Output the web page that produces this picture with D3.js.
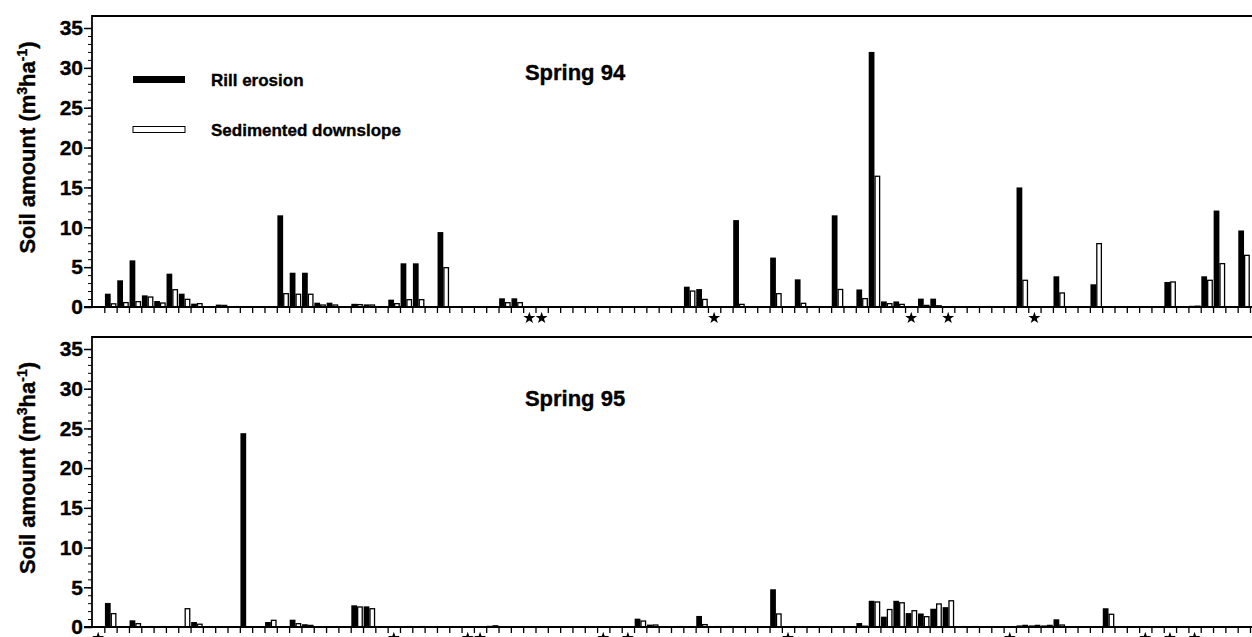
<!DOCTYPE html>
<html>
<head>
<meta charset="utf-8">
<script src="https://cdn.jsdelivr.net/npm/d3@7"></script>
<style>
  body { margin: 0; background: #fff; }
  svg { display: block; font-family: "Liberation Sans", Arial, sans-serif; font-weight: bold; }
  text { stroke: #000; stroke-width: 0.35px; }
</style>
</head>
<body>
<div id="chart"></div>
<script>
/* DATA */
// 94 plots along the transect
const fields = d3.range(1, 95);

const rill94 = [
  0, 1.67, 3.35, 5.85, 1.46, 0.75, 4.18, 1.67, 0.42, 0,
  0.3, 0.1, 0, 0, 0, 11.5, 4.3, 4.3, 0.54, 0.54,
  0, 0.4, 0.33, 0, 0.92, 5.48, 5.48, 0, 9.4, 0,
  0, 0, 0, 1.09, 1.09, 0, 0, 0, 0, 0,
  0, 0, 0, 0, 0, 0, 0, 0, 2.55, 2.25,
  0, 0, 10.9, 0, 0, 6.2, 0, 3.47, 0.05, 0,
  11.5, 0.1, 2.2, 32.0, 0.7, 0.7, 0, 1.05, 1.05, 0,
  0, 0, 0.1, 0, 0, 15.0, 0, 0, 3.85, 0,
  0, 2.85, 0, 0, 0, 0, 0, 3.14, 0, 0.15,
  3.85, 12.1, 0, 9.6
];
const sed94 = [
  0, 0.4, 0.55, 0.67, 1.25, 0.5, 2.17, 0.96, 0.42, 0,
  0.2, 0.05, 0, 0, 0, 1.67, 1.6, 1.6, 0.25, 0.25,
  0, 0.3, 0.25, 0, 0.42, 0.92, 0.92, 0, 4.93, 0,
  0, 0, 0, 0.54, 0.54, 0, 0, 0, 0, 0,
  0, 0, 0, 0, 0, 0, 0, 0, 2.0, 0.95,
  0, 0, 0.33, 0, 0, 1.67, 0, 0.46, 0.05, 0,
  2.2, 0.05, 1.05, 16.4, 0.42, 0.33, 0, 0.2, 0.15, 0,
  0, 0, 0.05, 0, 0, 3.35, 0, 0, 1.76, 0,
  0, 7.95, 0, 0, 0, 0, 0, 3.14, 0, 0.1,
  3.35, 5.44, 0, 6.48
];
const rill95 = [
  0, 3.03, 0, 0.84, 0.05, 0.05, 0.05, 0, 0.63, 0,
  0, 0, 24.4, 0, 0.63, 0, 0.92, 0.35, 0, 0,
  0, 2.73, 2.6, 0, 0, 0.05, 0.05, 0, 0, 0,
  0, 0, 0.15, 0, 0, 0, 0, 0, 0, 0,
  0, 0, 0, 0, 1.05, 0.3, 0, 0.05, 0, 1.39,
  0.05, 0.05, 0, 0, 0, 4.75, 0, 0, 0, 0,
  0, 0, 0.5, 3.3, 1.3, 3.3, 1.75, 1.7, 2.3, 2.5,
  0.05, 0.05, 0, 0, 0, 0.2, 0.2, 0.2, 0.97, 0,
  0, 0, 2.36, 0, 0, 0, 0, 0, 0, 0,
  0, 0, 0, 0
];
const sed95 = [
  0, 1.68, 0, 0.42, 0.05, 0.05, 0.05, 2.3, 0.35, 0,
  0, 0, 0, 0, 0.84, 0, 0.42, 0.2, 0, 0,
  0, 2.52, 2.3, 0, 0, 0.05, 0.05, 0, 0, 0,
  0, 0, 0.15, 0, 0, 0, 0, 0, 0, 0,
  0, 0, 0, 0, 0.75, 0.25, 0, 0.05, 0, 0.3,
  0.05, 0.05, 0, 0, 0, 1.64, 0, 0, 0, 0,
  0, 0, 0.1, 3.15, 2.2, 3.05, 2.05, 1.3, 2.9, 3.3,
  0.05, 0.05, 0, 0, 0, 0.2, 0.2, 0.2, 0.25, 0,
  0, 0, 1.6, 0, 0, 0, 0, 0, 0, 0,
  0, 0, 0, 0
];
// plots marked with an asterisk
const starred94 = [36, 37, 51, 67, 70, 77];
const starred95 = [1, 25, 31, 32, 42, 44, 57, 75, 86, 88, 90];

const yTicks = [0, 5, 10, 15, 20, 25, 30, 35];
const seriesNames = ["Rill erosion", "Sedimented downslope"];
const seasons = ["Spring 94", "Spring 95"];

/* LAYOUT */
const width = 1252, height = 637;
const left = 92, right = 1250;
const panels = [
  { title: seasons[0], rill: rill94, sed: sed94, stars: starred94, frameTop: 16, y0: 307, y35: 28, titleY: 80 },
  { title: seasons[1], rill: rill95, sed: sed95, stars: starred95, frameTop: 337, y0: 627, y35: 349, titleY: 406 }
];

const svg = d3.select("#chart").append("svg")
  .attr("width", width)
  .attr("height", height);

const xScale = d3.scaleBand()
  .domain(fields)
  .range([left, right])
  .padding(0);

const subScale = d3.scaleBand()
  .domain(["rill", "sed"])
  .range([0.6, xScale.bandwidth() - 0.2]);

// boundaries between plots carry the x ticks
const edgeScale = d3.scaleLinear()
  .domain([0, fields.length])
  .range([left, right]);

panels.forEach(p => {
  const yScale = d3.scaleLinear().domain([0, 35]).range([p.y0, p.y35]);
  const g = svg.append("g");

  const rows = fields.map((f, i) => ({ field: f, rill: p.rill[i], sed: p.sed[i] }));

  // rill bars (black)
  g.selectAll("rect.rill")
    .data(rows.filter(d => d.rill > 0))
    .join("rect")
    .attr("class", "rill")
    .attr("x", d => xScale(d.field) + subScale("rill"))
    .attr("width", subScale.bandwidth())
    .attr("y", d => yScale(d.rill))
    .attr("height", d => yScale(0) - yScale(d.rill))
    .attr("fill", "#000");

  // sediment bars (white, outlined)
  g.selectAll("rect.sed")
    .data(rows.filter(d => d.sed > 0))
    .join("rect")
    .attr("class", "sed")
    .attr("x", d => xScale(d.field) + subScale("sed") + 0.6)
    .attr("width", subScale.bandwidth() - 1.2)
    .attr("y", d => yScale(d.sed))
    .attr("height", d => yScale(0) - yScale(d.sed))
    .attr("fill", "#fff")
    .attr("stroke", "#000")
    .attr("stroke-width", 1.3);

  // frame top
  g.append("line")
    .attr("x1", left).attr("x2", width)
    .attr("y1", p.frameTop).attr("y2", p.frameTop)
    .attr("stroke", "#000").attr("stroke-width", 2);

  // y axis with minor ticks
  const yMinor = g.append("g")
    .attr("transform", `translate(${left},0)`)
    .call(d3.axisLeft(yScale).tickValues(d3.range(0, 36)).tickSize(4).tickFormat(""));
  yMinor.select(".domain").remove();

  const yAxis = g.append("g")
    .attr("transform", `translate(${left},0)`)
    .call(d3.axisLeft(yScale).tickValues(yTicks).tickSize(8).tickPadding(1));
  yAxis.select(".domain").remove();
  yAxis.selectAll(".tick line").attr("stroke-width", 1.5);
  yAxis.selectAll("text")
    .attr("font-size", 21)
    .attr("font-weight", "bold")
    .attr("font-family", "Liberation Sans, Arial, sans-serif")
    .attr("fill", "#000");

  g.append("line")
    .attr("x1", left).attr("x2", left)
    .attr("y1", p.frameTop - 1).attr("y2", p.y0)
    .attr("stroke", "#000").attr("stroke-width", 1.8);

  // x axis: ticks between plots
  const xAxis = g.append("g")
    .attr("transform", `translate(0,${p.y0})`)
    .call(d3.axisBottom(edgeScale).tickValues(d3.range(1, fields.length + 1)).tickSize(6).tickFormat(""));
  xAxis.select(".domain").remove();
  xAxis.selectAll(".tick line").attr("stroke-width", 1.3);

  g.append("line")
    .attr("x1", left - 8).attr("x2", width)
    .attr("y1", p.y0).attr("y2", p.y0)
    .attr("stroke", "#000").attr("stroke-width", 2.2);

  // asterisks below the axis
  g.selectAll("path.star")
    .data(p.stars)
    .join("path")
    .attr("class", "star")
    .attr("d", d3.symbol().type(d3.symbolStar).size(45))
    .attr("transform", d => `translate(${xScale(d) + xScale.bandwidth() / 2},${p.y0 + 11})`)
    .attr("fill", "#000");

  // y title
  const yt = g.append("text")
    .attr("transform", `translate(35,${(p.frameTop + p.y0) / 2 - 14}) rotate(-90)`)
    .attr("text-anchor", "middle")
    .attr("font-size", 22);
  yt.append("tspan").text("Soil amount (m");
  yt.append("tspan").attr("dy", -8).attr("font-size", 14).text("3");
  yt.append("tspan").attr("dy", 8).text("ha");
  yt.append("tspan").attr("dy", -8).attr("font-size", 14).text("-1");
  yt.append("tspan").attr("dy", 8).text(")");

  // panel title
  g.append("text")
    .attr("x", 575).attr("y", p.titleY)
    .attr("text-anchor", "middle")
    .attr("font-size", 22)
    .text(p.title);
});

/* LEGEND */
const legend = svg.append("g");
legend.append("rect")
  .attr("x", 133).attr("y", 76).attr("width", 52).attr("height", 7)
  .attr("fill", "#000");
legend.append("rect")
  .attr("x", 133).attr("y", 126.5).attr("width", 52).attr("height", 6)
  .attr("fill", "#fff").attr("stroke", "#000").attr("stroke-width", 1);
legend.selectAll("text")
  .data(seriesNames)
  .join("text")
  .attr("x", 211)
  .attr("y", (d, i) => 86 + i * 50)
  .attr("font-size", 17)
  .text(d => d);
</script>
</body>
</html>
